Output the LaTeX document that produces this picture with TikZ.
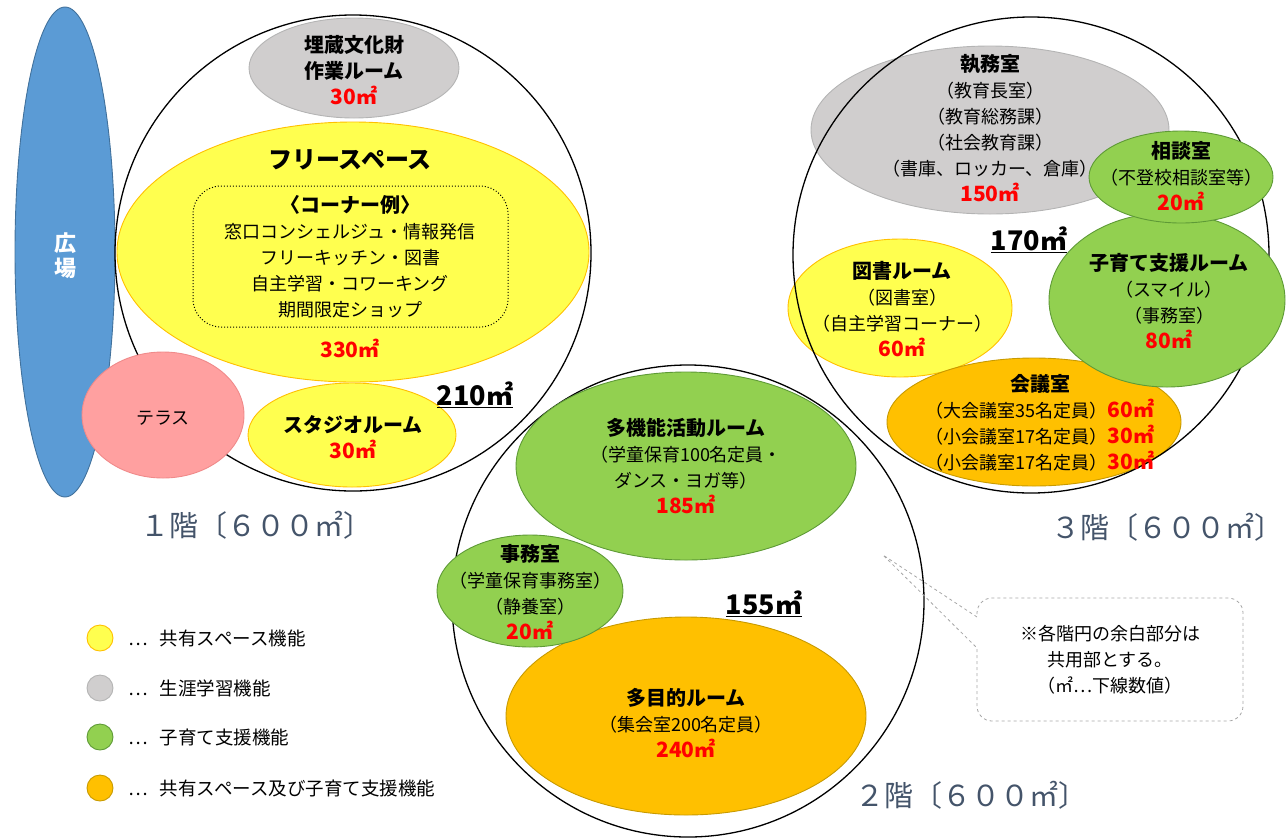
\documentclass[tikz,border=0pt]{standalone}
\usepackage{fontspec}
\setmainfont{Noto Sans CJK JP}
\definecolor{cyel}{HTML}{FFFF4F}
\definecolor{cyelb}{HTML}{FFC000}
\definecolor{cgray}{HTML}{D0CECE}
\definecolor{cgrayb}{HTML}{B4B4B4}
\definecolor{cgrn}{HTML}{92D050}
\definecolor{cgrnb}{HTML}{5E9A36}
\definecolor{corg}{HTML}{FFC000}
\definecolor{corgb}{HTML}{C89A00}
\definecolor{cpink}{HTML}{FFA0A0}
\definecolor{cpinkb}{HTML}{F08A8A}
\definecolor{cblue}{HTML}{5B9BD5}
\definecolor{cblueb}{HTML}{41719C}
\definecolor{cred}{HTML}{FF0000}
\definecolor{cfloor}{HTML}{44546A}
\definecolor{ccall}{HTML}{A6A6A6}
\newcommand\ar[1]{{\fontsize{21}{26}\selectfont\color{cred}\bfseries #1}}
\newcommand\ti[1]{{\fontsize{20}{26}\selectfont\bfseries #1}}
\tikzset{
  floorc/.style={draw=black, line width=1.3pt},
  ey/.style={fill=cyel, draw=cyelb, line width=0.9pt},
  eg/.style={fill=cgray, draw=cgrayb, line width=0.9pt},
  en/.style={fill=cgrn, draw=cgrnb, line width=0.9pt},
  eo/.style={fill=corg, draw=corgb, line width=0.9pt},
  ep/.style={fill=cpink, draw=cpinkb, line width=0.9pt},
  tx/.style={align=center, inner sep=0pt, font=\fontsize{18}{26}\selectfont},
  lg/.style={inner sep=0pt, anchor=west, font=\fontsize{18.5}{26}\selectfont},
  tot/.style={inner sep=0pt, font=\fontsize{27}{28}\selectfont\bfseries},
  flab/.style={inner sep=0pt, text=cfloor, font=\fontsize{29}{30}\selectfont},
}
\begin{document}
\begin{tikzpicture}[x=1pt,y=-1pt]
\useasboundingbox (0,0) rectangle (1287,839);
% plaza
\draw[fill=cblue, draw=cblueb, line width=0.9pt] (65,252) ellipse [x radius=50pt, y radius=245pt];
\node[text=white, align=center, inner sep=0pt, font=\fontsize{22}{25}\selectfont\bfseries] (hiroba) at (65,256) {広\\場};
% under-circle ellipses
\draw[eg] (354,68) ellipse [x radius=105pt, y radius=50pt];
\draw[ey] (353,252) ellipse [x radius=236pt, y radius=130pt];
\draw[ey] (352,435) ellipse [x radius=104pt, y radius=52pt];
\draw[eg] (990,130) ellipse [x radius=179pt, y radius=84pt];
\draw[ey] (900,308) ellipse [x radius=112pt, y radius=69pt];
\draw[eo] (1034,422) ellipse [x radius=147pt, y radius=64pt];
\draw[eo] (686,716) ellipse [x radius=180pt, y radius=99pt];
% floor circles
\draw[floorc] (353,253) circle [radius=238pt];
\draw[floorc] (688,601) circle [radius=236pt];
\draw[floorc] (1031,255) circle [radius=238pt];
% over-circle ellipses
\draw[ep] (163,415) ellipse [x radius=81pt, y radius=63pt];
\draw[en] (1167,300) ellipse [x radius=118pt, y radius=87pt];
\draw[en] (1181,177) ellipse [x radius=92pt, y radius=46pt];
\draw[en] (686,466) ellipse [x radius=170pt, y radius=94pt];
\draw[en] (530,591) ellipse [x radius=93pt, y radius=56pt];
% floor 1 texts
\node[tx] (maizo) at (354,70) {\ti{埋蔵文化財}\\\ti{作業ルーム}\\\ar{30㎡}};
\node[tx] (free) at (350,160) {\fontsize{24}{26}\selectfont\bfseries フリースペース};
\draw[dotted, line width=1pt, rounded corners=28pt] (193,186) rectangle (508,327);
\node[tx] (corner) at (350,257) {\ti{〈コーナー例〉}\\窓口コンシェルジュ・情報発信\\フリーキッチン・図書\\自主学習・コワーキング\\期間限定ショップ};
\node[tx] (a330) at (350,348) {\ar{330㎡}};
\node[tx] (terrace) at (163,418) {テラス};
\node[tx] (studio) at (353,437.5) {\ti{スタジオルーム}\\\ar{30㎡}};
\node[tot] (f1tot) at (475,395) {\underline{210㎡}};
\node[flab] (f1lab) at (256,525) {１階〔６００㎡〕};
% floor 3 texts
\node[tx] (shitsumu) at (990,128.5) {\ti{執務室}\\（教育長室）\\（教育総務課）\\（社会教育課）\\（書庫、ロッカー、倉庫）\\\ar{150㎡}};
\node[tx] (sodan) at (1181,176.5) {\ti{相談室}\\（不登校相談室等）\\\ar{20㎡}};
\node[tot] (f3tot) at (1029,240) {\underline{170㎡}};
\node[tx] (tosho) at (902,309) {\ti{図書ルーム}\\（図書室）\\（自主学習コーナー）\\\ar{60㎡}};
\node[tx] (kosodate) at (1169,301) {\ti{子育て支援ルーム}\\（スマイル）\\（事務室）\\\ar{80㎡}};
\node[tx] (kaigi) at (1040,423) {\ti{会議室}\\（大会議室35名定員）\ar{60㎡}\\（小会議室17名定員）\ar{30㎡}\\（小会議室17名定員）\ar{30㎡}};
\node[flab] (f3lab) at (1167,527) {３階〔６００㎡〕};
% floor 2 texts
\node[tx] (takino) at (686,466.5) {\ti{多機能活動ルーム}\\（学童保育100名定員・\\ダンス・ヨガ等）\\\ar{185㎡}};
\node[tx] (jimu) at (530,592) {\ti{事務室}\\（学童保育事務室）\\（静養室）\\\ar{20㎡}};
\node[tot] (f2tot) at (764,604) {\underline{155㎡}};
\node[tx] (tamokuteki) at (686,723.5) {\ti{多目的ルーム}\\（集会室200名定員）\\\ar{240㎡}};
\node[flab] (f2lab) at (971,795) {２階〔６００㎡〕};
% callout
\draw[ccall, dashed, line width=0.8pt] (977,617) -- (883,555) -- (977,648)
  {[rounded corners=15pt] -- (977,721) -- (1243,721) -- (1243,598) -- (977,598)} -- cycle;
\node[tx] (note) at (1110,660) {※各階円の余白部分は\\共用部とする。\\（㎡…下線数値）};
% legend
\draw[ey] (100,638) circle [radius=13pt];
\draw[eg] (100,688) circle [radius=13pt];
\draw[en] (100,737) circle [radius=13pt];
\draw[eo] (100,788) circle [radius=13pt];
\node[lg] (leg1) at (128,638) {…\hspace{12pt}共有スペース機能};
\node[lg] (leg2) at (128,688) {…\hspace{12pt}生涯学習機能};
\node[lg] (leg3) at (128,737) {…\hspace{12pt}子育て支援機能};
\node[lg] (leg4) at (128,788) {…\hspace{12pt}共有スペース及び子育て支援機能};
\end{tikzpicture}
\end{document}
